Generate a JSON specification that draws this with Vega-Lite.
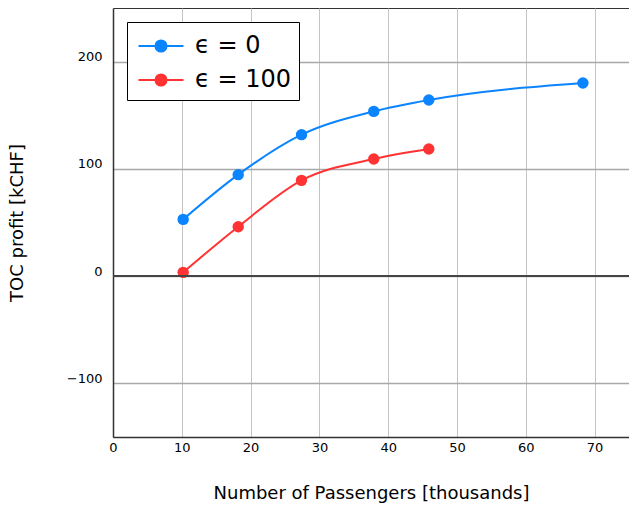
{
  "$schema": "https://vega.github.io/schema/vega-lite/v6.json",
  "width": 516,
  "height": 429,
  "autosize": {"type": "none"},
  "padding": {"left": 113, "top": 8, "right": 0, "bottom": 73},
  "background": "white",
  "config": {
    "font": "DejaVu Sans",
    "view": {"stroke": "#333", "strokeWidth": 1},
    "axis": {
      "grid": true,
      "gridColor": "#c4c4c4",
      "gridWidth": 1,
      "domainColor": "#333",
      "domainWidth": 1.5,
      "ticks": false,
      "labelFlush": false,
      "labelFont": "DejaVu Sans",
      "labelFontSize": 13,
      "labelColor": "#000",
      "titleFont": "DejaVu Sans",
      "titleFontSize": 18,
      "titleFontWeight": "normal",
      "titleColor": "#000"
    },
    "axisY": {"gridColor": "#a8a8a8", "gridWidth": 1.3}
  },
  "data": {
    "values": [
      {"passengers": 10.2, "profit": 52.9, "series": "ϵ = 0"},
      {"passengers": 18.2, "profit": 94.6, "series": "ϵ = 0"},
      {"passengers": 27.4, "profit": 131.9, "series": "ϵ = 0"},
      {"passengers": 37.9, "profit": 153.6, "series": "ϵ = 0"},
      {"passengers": 45.9, "profit": 164.2, "series": "ϵ = 0"},
      {"passengers": 68.3, "profit": 180.0, "series": "ϵ = 0"},
      {"passengers": 10.2, "profit": 3.5, "series": "ϵ = 100"},
      {"passengers": 18.2, "profit": 46.1, "series": "ϵ = 100"},
      {"passengers": 27.4, "profit": 89.3, "series": "ϵ = 100"},
      {"passengers": 37.9, "profit": 109.2, "series": "ϵ = 100"},
      {"passengers": 45.9, "profit": 118.5, "series": "ϵ = 100"}
    ]
  },
  "layer": [
    {
      "mark": {"type": "line", "interpolate": "monotone", "strokeWidth": 2},
      "encoding": {
        "x": {
          "field": "passengers",
          "type": "quantitative",
          "scale": {"domain": [0, 75], "nice": false},
          "axis": {
            "title": "Number of Passengers [thousands]",
            "values": [0, 10, 20, 30, 40, 50, 60, 70],
            "labelPadding": 4,
            "titlePadding": 30
          }
        },
        "y": {
          "field": "profit",
          "type": "quantitative",
          "scale": {"domain": [-150, 250], "nice": false},
          "axis": {
            "title": "TOC profit [kCHF]",
            "values": [-100, 0, 100, 200],
            "labelPadding": 11,
            "labelOffset": -5,
            "labelExpr": "replace(datum.label, '-', '−')",
            "titlePadding": 40
          }
        },
        "color": {
          "field": "series",
          "type": "nominal",
          "scale": {"domain": ["ϵ = 0", "ϵ = 100"], "range": ["#0a84ff", "#ff3333"]},
          "legend": {
            "title": null,
            "orient": "top-left",
            "offset": 14,
            "fillColor": "white",
            "strokeColor": "#000",
            "padding": 8,
            "labelFontSize": 24,
            "labelFont": "DejaVu Sans",
            "labelColor": "#000",
            "symbolType": "M-1.5,0H1.5M-0.37,0A0.37,0.37,0,1,1,0.37,0A0.37,0.37,0,1,1,-0.37,0Z",
            "symbolSize": 900,
            "symbolStrokeWidth": 2,
            "symbolOffset": 10,
            "rowPadding": 6,
            "labelOffset": 18,
            "encode": {
              "symbols": {"update": {"fill": {"scale": "color", "field": "value"}, "opacity": {"value": 1}}}
            }
          }
        }
      }
    },
    {
      "mark": {"type": "point", "filled": true, "opacity": 1, "size": 130},
      "encoding": {
        "x": {"field": "passengers", "type": "quantitative"},
        "y": {"field": "profit", "type": "quantitative"},
        "color": {"field": "series", "type": "nominal"}
      }
    },
    {
      "mark": {"type": "rule", "color": "#444", "strokeWidth": 1.5},
      "encoding": {"y": {"datum": 0, "type": "quantitative"}}
    }
  ]
}
